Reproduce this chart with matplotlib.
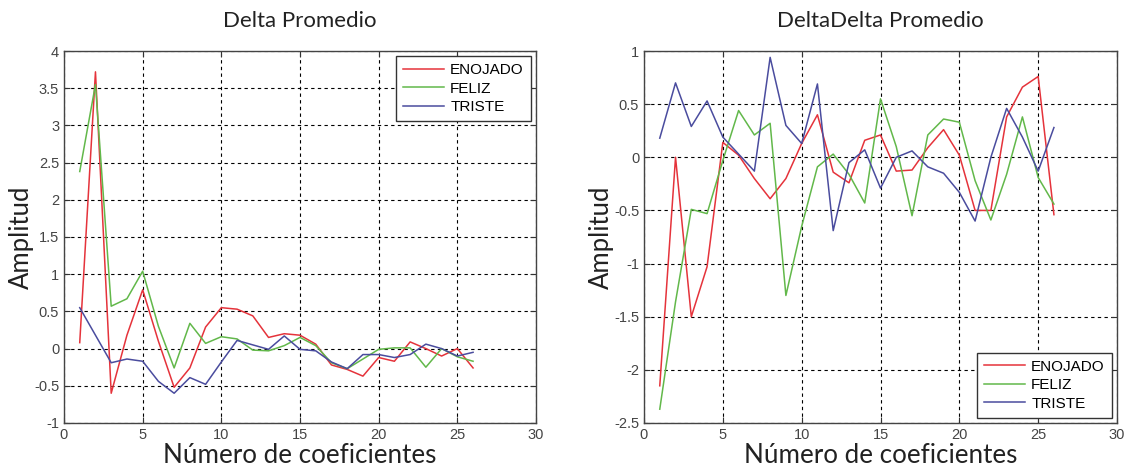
import numpy as np
import matplotlib
matplotlib.use("Agg")
import matplotlib.pyplot as plt

x = list(range(1, 27))
series_names = ["ENOJADO", "FELIZ", "TRISTE"]
colors = ["#e5333b", "#62b84a", "#4a4c9e"]

# Delta Promedio
delta_enojado = [0.08, 3.72, -0.60, 0.18, 0.79, 0.10, -0.52, -0.26, 0.29, 0.55,
                 0.53, 0.44, 0.15, 0.20, 0.18, 0.06, -0.22, -0.28, -0.37, -0.12,
                 -0.17, 0.09, 0.00, -0.10, 0.00, -0.26]
delta_feliz = [2.38, 3.55, 0.57, 0.67, 1.04, 0.30, -0.26, 0.34, 0.07, 0.16,
               0.13, -0.02, -0.03, 0.04, 0.15, 0.04, -0.19, -0.27, -0.14, -0.01,
               0.01, 0.01, -0.25, 0.00, -0.11, -0.17]
delta_triste = [0.55, 0.18, -0.19, -0.14, -0.17, -0.44, -0.60, -0.39, -0.48, -0.18,
                0.11, 0.05, -0.01, 0.17, -0.01, -0.03, -0.18, -0.27, -0.08, -0.08,
                -0.12, -0.08, 0.06, 0.00, -0.10, -0.05]

# DeltaDelta Promedio
dd_enojado = [-2.15, 0.00, -1.50, -1.03, 0.14, 0.02, -0.20, -0.39, -0.20, 0.13,
              0.40, -0.14, -0.24, 0.16, 0.21, -0.13, -0.12, 0.09, 0.26, 0.02,
              -0.50, -0.50, 0.38, 0.66, 0.76, -0.54]
dd_feliz = [-2.37, -1.36, -0.49, -0.53, -0.03, 0.44, 0.21, 0.32, -1.30, -0.65,
            -0.09, 0.03, -0.16, -0.43, 0.55, 0.10, -0.55, 0.21, 0.36, 0.33,
            -0.22, -0.59, -0.16, 0.38, -0.19, -0.44]
dd_triste = [0.18, 0.70, 0.29, 0.53, 0.19, 0.03, -0.13, 0.94, 0.30, 0.13,
             0.69, -0.69, -0.05, 0.07, -0.29, 0.00, 0.06, -0.09, -0.15, -0.33,
             -0.60, 0.00, 0.46, 0.19, -0.13, 0.28]

plt.rcParams['font.family'] = ['Liberation Sans', 'DejaVu Sans']

fig = plt.figure(figsize=(11.28, 4.75), dpi=100)
ax1 = fig.add_axes([64/1128, 52/475, 472/1128, 372/475])
ax2 = fig.add_axes([644/1128, 52/475, 473/1128, 372/475])

panels = [
    (ax1, "Delta Promedio", [delta_enojado, delta_feliz, delta_triste], (-1, 4), 0.5, "upper right"),
    (ax2, "DeltaDelta Promedio", [dd_enojado, dd_feliz, dd_triste], (-2.5, 1), 0.5, "lower right"),
]

for ax, title, data, ylim, ystep, loc in panels:
    for name, vals, c in zip(series_names, data, colors):
        ax.plot(x, vals, color=c, lw=1.1, label=name)
    ax.set_xlim(0, 30)
    ax.set_ylim(*ylim)
    ax.set_xticks(np.arange(0, 31, 5))
    ticks = np.arange(ylim[0], ylim[1] + 0.001, ystep)
    ax.set_yticks(ticks)
    ax.set_yticklabels([f"{v:g}" for v in ticks])
    ax.grid(True, color="black", linestyle=(0, (3, 3)), linewidth=0.8)
    ax.tick_params(direction="in", length=4, labelsize=10.5, labelcolor="#444444",
                   top=True, right=True, color="#333333")
    for s in ax.spines.values():
        s.set_color("#444444")
        s.set_linewidth(1.0)
    ax.set_title(title, fontsize=16, family=["Lato", "DejaVu Sans"], color="#222222", pad=17)
    ax.set_xlabel("Número de coeficientes", fontsize=18.7, family=["Lato", "DejaVu Sans"],
                  color="#222222", labelpad=1)
    ax.set_ylabel("Amplitud", fontsize=18.5, family=["Lato", "DejaVu Sans"],
                  color="#222222", labelpad=0)
    leg = ax.legend(loc=loc, fontsize=11, fancybox=False, framealpha=1,
                    edgecolor="#333333", handlelength=2.7, borderaxespad=0.35,
                    labelspacing=0.3, handletextpad=0.4, borderpad=0.45)
    leg.get_frame().set_linewidth(1.0)

fig.savefig("out.png", dpi=100)
